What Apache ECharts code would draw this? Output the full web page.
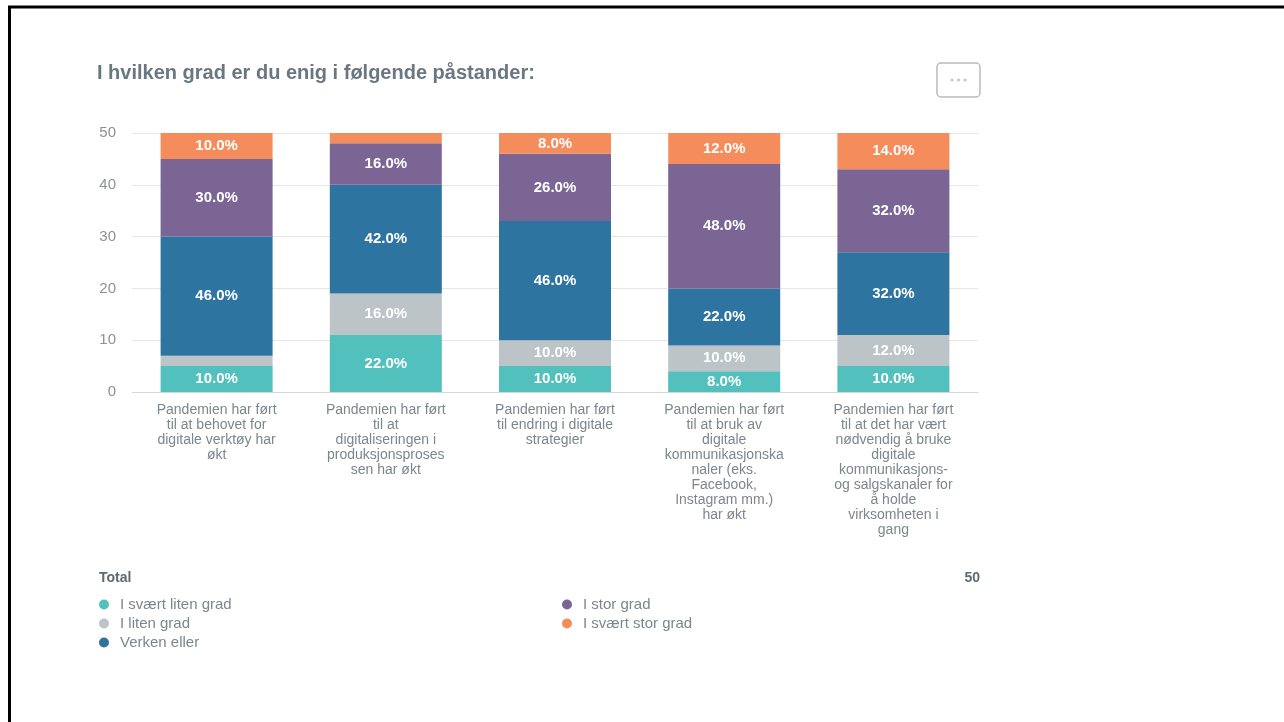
<!DOCTYPE html>
<html><head><meta charset="utf-8">
<script src="https://cdn.jsdelivr.net/npm/echarts@6/dist/echarts.min.js"></script>
<style>html,body{margin:0;padding:0;background:#fff}#c{width:1284px;height:722px}</style>
</head><body><div id="c"></div>
<script>
const categories = [
  "Pandemien har ført\ntil at behovet for\ndigitale verktøy har\nøkt",
  "Pandemien har ført\ntil at\ndigitaliseringen i\nproduksjonsproses\nsen har økt",
  "Pandemien har ført\ntil endring i digitale\nstrategier",
  "Pandemien har ført\ntil at bruk av\ndigitale\nkommunikasjonska\nnaler (eks.\nFacebook,\nInstagram mm.)\nhar økt",
  "Pandemien har ført\ntil at det har vært\nnødvendig å bruke\ndigitale\nkommunikasjons-\nog salgskanaler for\nå holde\nvirksomheten i\ngang"
];
const seriesNames = ["I svært liten grad", "I liten grad", "Verken eller", "I stor grad", "I svært stor grad"];
const seriesColors = ["#52c0bc", "#bdc4c8", "#2e74a0", "#7b6595", "#f58c5c"];
const sværtLiten = [5, 11, 5, 4, 5];
const liten      = [2, 8, 5, 5, 6];
const verken     = [23, 21, 23, 11, 16];
const stor       = [15, 8, 13, 24, 16];
const sværtStor  = [5, 2, 4, 6, 7];
const yTicks = [0, 10, 20, 30, 40, 50];
const totalRespondents = 50;

const allValues = [sværtLiten, liten, verken, stor, sværtStor];
const FONT = "'Liberation Sans', Arial, sans-serif";

const series = allValues.map((vals, i) => ({
  name: seriesNames[i],
  type: 'bar',
  stack: 'total',
  barWidth: 112,
  data: vals,
  itemStyle: { color: seriesColors[i] },
  label: {
    show: true,
    position: 'inside',
    color: '#ffffff',
    fontFamily: FONT,
    fontSize: 15,
    fontWeight: 'bold',
    formatter: p => {
      const pct = p.value / totalRespondents * 100;
      return pct < 5 ? '' : pct.toFixed(1) + '%';
    }
  },
  emphasis: { disabled: true }
}));

const legendText = { color: '#7d868c', fontSize: 15, lineHeight: 15, fontFamily: FONT, padding: [0, 0, 0, 6] };

const chart = echarts.init(document.getElementById('c'), null, { renderer: 'canvas' });
chart.setOption({
  animation: false,
  backgroundColor: '#ffffff',
  textStyle: { fontFamily: FONT },
  title: {
    text: 'I hvilken grad er du enig i følgende påstander:',
    left: 92, top: 58,
    textStyle: { color: '#6b7780', fontSize: 20, fontWeight: 'bold', fontFamily: FONT }
  },
  grid: { left: 132, right: 306, top: 133, bottom: 330, containLabel: false },
  xAxis: {
    type: 'category',
    data: categories,
    axisLine: { lineStyle: { color: '#d5d8da' } },
    axisTick: { show: false },
    axisLabel: {
      color: '#7d868c', fontSize: 14, lineHeight: 15, fontFamily: FONT,
      interval: 0, margin: 11, verticalAlign: 'top'
    }
  },
  yAxis: {
    type: 'value',
    min: yTicks[0], max: yTicks[yTicks.length - 1], interval: 10,
    axisLine: { show: false },
    axisTick: { show: false },
    splitLine: { lineStyle: { color: '#e4e6e8' } },
    axisLabel: { color: '#8a9296', fontSize: 15, fontFamily: FONT, margin: 16 }
  },
  legend: [
    {
      data: seriesNames.slice(0, 3),
      orient: 'vertical', left: 94, top: 592, itemGap: 4,
      icon: 'circle', itemWidth: 10, itemHeight: 10,
      selectedMode: false,
      textStyle: legendText
    },
    {
      data: seriesNames.slice(3),
      orient: 'vertical', left: 557, top: 592, itemGap: 4,
      icon: 'circle', itemWidth: 10, itemHeight: 10,
      selectedMode: false,
      textStyle: legendText
    }
  ],
  graphic: [
    { type: 'line', shape: { x1: 9.5, y1: 7, x2: 9.5, y2: 722 }, style: { stroke: '#000', lineWidth: 3 } },
    { type: 'line', shape: { x1: 8, y1: 7, x2: 1284, y2: 7 }, style: { stroke: '#000', lineWidth: 3 } },
    { type: 'rect', shape: { x: 937, y: 63, width: 43, height: 34, r: 4 },
      style: { fill: '#fff', stroke: '#b8bcbf', lineWidth: 1.5 } },
    { type: 'circle', shape: { cx: 952, cy: 80, r: 1.6 }, style: { fill: '#c4c8cb' } },
    { type: 'circle', shape: { cx: 958.5, cy: 80, r: 1.6 }, style: { fill: '#c4c8cb' } },
    { type: 'circle', shape: { cx: 965, cy: 80, r: 1.6 }, style: { fill: '#c4c8cb' } },
    { type: 'text', left: 99, top: 571,
      style: { text: 'Total', fill: '#5e6a72', font: 'bold 14px ' + FONT } },
    { type: 'text', right: 304, top: 571,
      style: { text: String(totalRespondents), fill: '#5e6a72', font: 'bold 14px ' + FONT } }
  ],
  series: series
});
</script>
</body></html>
